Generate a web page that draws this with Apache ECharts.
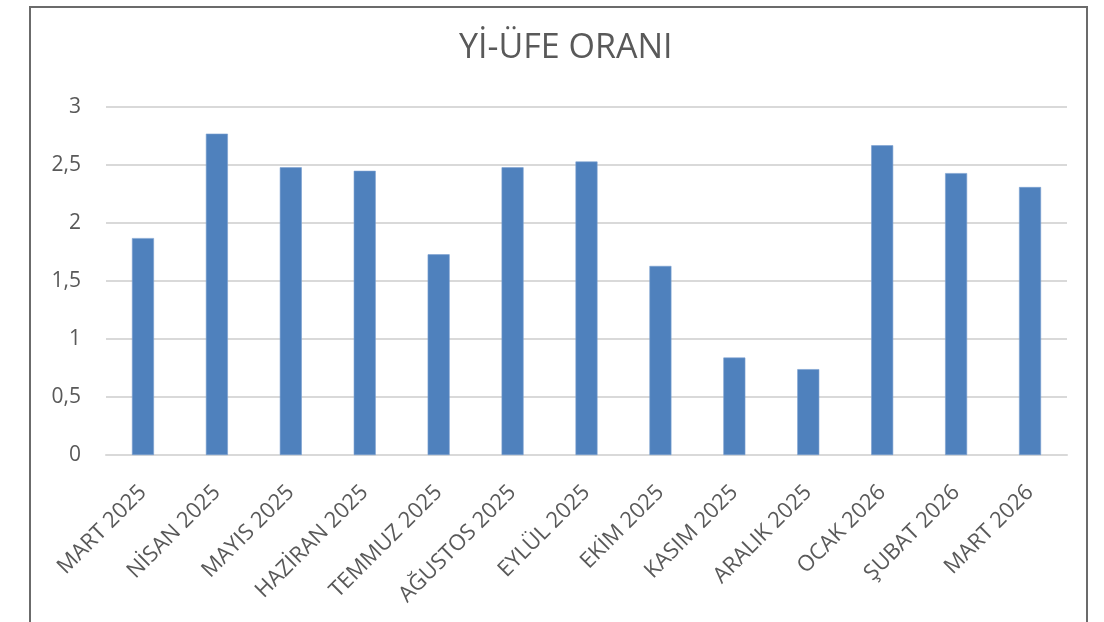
<!DOCTYPE html>
<html>
<head>
<meta charset="utf-8">
<script src="https://cdn.jsdelivr.net/npm/echarts@6/dist/echarts.min.js"></script>
<style>
  html, body { margin: 0; padding: 0; background: #ffffff; width: 1104px; height: 622px; overflow: hidden; }
  #frame { position: absolute; left: 29px; top: 6px; width: 1059px; height: 700px; border: 2px solid #6b6b6b; box-sizing: border-box; }
  #chart { position: absolute; left: 0; top: 0; width: 1104px; height: 622px; }
</style>
</head>
<body>
<div id="frame"></div>
<div id="chart"></div>
<script>
const titleText = 'Yİ-ÜFE ORANI';
const categories = ['MART 2025', 'NİSAN 2025', 'MAYIS 2025', 'HAZİRAN 2025', 'TEMMUZ 2025', 'AĞUSTOS 2025', 'EYLÜL 2025', 'EKİM 2025', 'KASIM 2025', 'ARALIK 2025', 'OCAK 2026', 'ŞUBAT 2026', 'MART 2026'];
const values = [1.87, 2.77, 2.48, 2.45, 1.73, 2.48, 2.53, 1.63, 0.84, 0.74, 2.67, 2.43, 2.31];
const yMin = 0, yMax = 3, yStep = 0.5;

const chart = echarts.init(document.getElementById('chart'), null, { renderer: 'canvas' });
chart.setOption({
  backgroundColor: 'transparent',
  animation: false,
  title: {
    text: titleText,
    left: 454,
    top: 26,
    textStyle: { fontFamily: 'Open Sans', fontSize: 34, fontWeight: 'normal', color: '#595959' }
  },
  grid: { left: 106, right: 37, top: 107, bottom: 167, containLabel: false },
  xAxis: {
    type: 'category',
    data: categories,
    axisLine: { show: true, lineStyle: { color: '#d9d9d9', width: 2 } },
    axisTick: { show: false },
    axisLabel: {
      interval: 0,
      rotate: 45,
      margin: 34,
      fontFamily: 'Open Sans',
      fontSize: 22,
      color: '#595959'
    }
  },
  yAxis: {
    type: 'value',
    min: yMin,
    max: yMax,
    interval: yStep,
    axisLine: { show: false },
    axisTick: { show: false },
    splitLine: { lineStyle: { color: '#d9d9d9', width: 2 } },
    axisLabel: {
      margin: 25,
      fontFamily: 'Open Sans',
      fontSize: 21,
      color: '#595959',
      formatter: v => String(v).replace('.', ',')
    }
  },
  series: [{
    type: 'bar',
    data: values,
    barWidth: 22,
    itemStyle: { color: '#4f81bd', borderColor: '#7a9fd0', borderWidth: 0.6 }
  }]
});
</script>
</body>
</html>
